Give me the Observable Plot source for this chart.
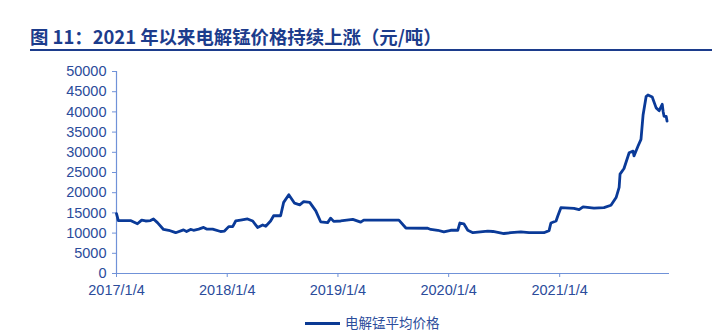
<!DOCTYPE html>
<html>
<head>
<meta charset="utf-8">
<script src="https://cdn.jsdelivr.net/npm/d3@7"></script>
<script src="https://cdn.jsdelivr.net/npm/@observablehq/plot@0.6"></script>
<style>
  html, body { margin: 0; padding: 0; background: #fff; }
  #wrap { position: relative; width: 712px; height: 333px; overflow: hidden; }
  #title { height: 55px; position: relative; }
  #title span { position: absolute; left: 30px; top: 26px; font-family: "Noto Sans CJK SC", sans-serif; font-weight: 700; font-size: 18.4px; color: #1c3c8c; white-space: nowrap; line-height: 20px; }
  #title div.rule { position: absolute; left: 30px; right: 0; top: 49px; height: 2px; background: #1c3c8c; }
  #legend { position: absolute; left: 305px; top: 312px; font-family: "Noto Sans CJK SC", sans-serif; font-size: 13.5px; color: #2b4c9b; white-space: nowrap; }
  #legend i { display: inline-block; width: 35px; height: 3px; background: #0b3a94; vertical-align: middle; margin-right: 5px; position: relative; top: -1px; }
  #chart { position: absolute; left: 0; top: 55px; }
</style>
</head>
<body>
<div id="wrap">
  <div id="title"><span>图 11：2021 年以来电解锰价格持续上涨（元/吨）</span><div class="rule"></div></div>
  <div id="chart"></div>
  <div id="legend"><i></i>电解锰平均价格</div>
</div>
<script>
const seriesName = "电解锰平均价格";
const dates = [
  "2017-01-04","2017-01-10","2017-02-19","2017-03-14","2017-03-28","2017-04-10","2017-04-26","2017-05-06","2017-05-19","2017-06-08",
  "2017-06-25","2017-07-18","2017-08-13","2017-08-23","2017-09-05","2017-09-15","2017-10-02","2017-10-18","2017-10-28","2017-11-17",
  "2017-12-13","2017-12-26","2018-01-09","2018-01-22","2018-02-01","2018-02-17","2018-03-12","2018-03-29","2018-04-14","2018-05-01",
  "2018-05-11","2018-05-27","2018-06-06","2018-06-29","2018-07-09","2018-07-26","2018-08-14","2018-08-31","2018-09-13","2018-10-03",
  "2018-10-23","2018-11-08","2018-12-01","2018-12-11","2018-12-21","2019-01-13","2019-02-22","2019-03-20","2019-03-30","2019-07-24",
  "2019-08-16","2019-10-27","2019-11-06","2019-11-29","2019-12-19","2020-01-11","2020-02-03","2020-02-10","2020-02-23","2020-03-07",
  "2020-03-24","2020-05-12","2020-05-29","2020-07-04","2020-07-27","2020-08-29","2020-09-25","2020-11-13","2020-11-30","2020-12-06",
  "2020-12-23","2020-12-29","2021-01-08","2021-02-20","2021-03-09","2021-03-22","2021-04-27","2021-05-30","2021-06-22","2021-07-09",
  "2021-07-19","2021-07-22","2021-08-04","2021-08-21","2021-09-03","2021-09-06","2021-09-19","2021-09-29","2021-10-06","2021-10-16",
  "2021-10-22","2021-11-05","2021-11-18","2021-11-28","2021-12-08","2021-12-11","2021-12-14","2021-12-21","2021-12-24"
];
const prices = [
  14800,13100,13100,12300,13200,13000,13100,13500,12600,10900,
  10700,10100,10800,10400,10900,10700,11000,11400,11000,11000,
  10400,10500,11600,11600,13000,13200,13500,13000,11400,12000,
  11700,13000,14300,14300,17600,19500,17400,17000,17800,17600,
  15500,12800,12600,13700,12900,13000,13400,12700,13200,13200,
  11250,11200,10900,10700,10300,10700,10700,12500,12300,10700,
  10100,10500,10400,9900,10100,10300,10100,10100,10600,12500,
  13000,14300,16300,16100,15800,16500,16200,16300,16900,18800,
  21300,24600,26000,29900,30300,29100,31500,33200,39300,43800,
  44200,43700,41000,40300,41900,40100,38900,38900,37700
];
const xTickLabels = ["2017/1/4","2018/1/4","2019/1/4","2020/1/4","2021/1/4"];
const yTicks = [0,5000,10000,15000,20000,25000,30000,35000,40000,45000,50000];

const parse = d3.utcParse("%Y-%m-%d");
const data = dates.map((d, i) => ({date: parse(d), value: prices[i]}));
const xTicks = xTickLabels.map(s => d3.utcParse("%Y/%m/%d")(s));
const x0 = parse("2017-01-04"), x1 = parse("2022-01-01");
const axisColor = "#7092d8";
const textColor = "#2b4c9b";

const chart = Plot.plot({
  width: 712,
  height: 250,
  marginLeft: 116,
  marginRight: 43,
  marginTop: 16,
  marginBottom: 32,
  style: {fontFamily: "'Liberation Sans', Arial, sans-serif", fontSize: "14.5px", color: textColor, background: "transparent"},
  x: {type: "utc", domain: [x0, x1]},
  y: {domain: [0, 50000]},
  marks: [
    Plot.axisY({ticks: yTicks, tickFormat: d => String(d), tickSize: 4, tickPadding: 6, stroke: axisColor, fill: textColor, fontSize: 14.5, label: null}),
    Plot.axisX({ticks: xTicks, tickFormat: d3.utcFormat("%Y/%-m/%-d"), tickSize: 4, tickPadding: 7, stroke: axisColor, fill: textColor, fontSize: 14.5, label: null}),
    Plot.ruleX([x0], {stroke: axisColor, strokeWidth: 1.2}),
    Plot.ruleY([0], {stroke: axisColor, strokeWidth: 1.2}),
    Plot.line(data, {x: "date", y: "value", stroke: "#0a3a98", strokeWidth: 2.8, strokeLinejoin: "round", title: () => seriesName})
  ]
});
document.getElementById("chart").appendChild(chart);
</script>
</body>
</html>
